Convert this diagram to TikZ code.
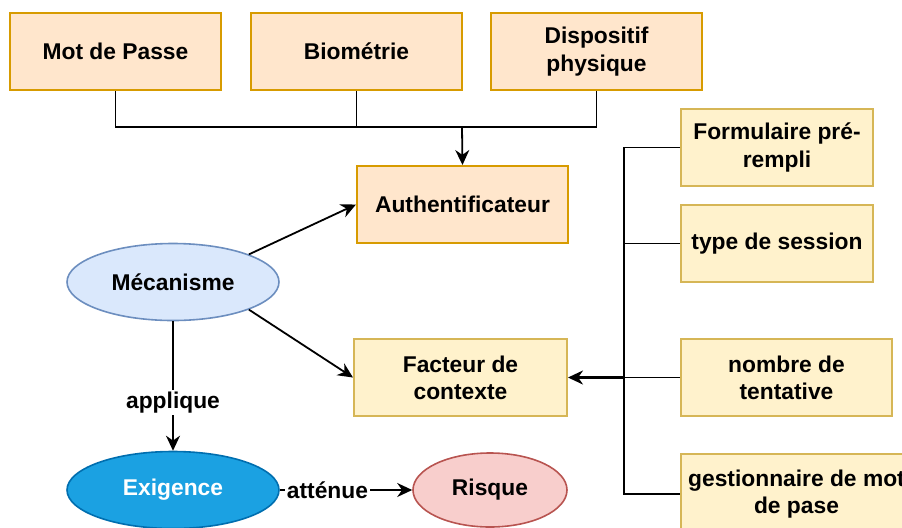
\documentclass[tikz,border=0pt]{standalone}
\usepackage{fontspec}
\setmainfont{Liberation Sans}
\usepackage{xcolor}
\usepackage{tikz}
\usetikzlibrary{shapes.geometric, arrows.meta, positioning, calc}
\definecolor{orangefill}{HTML}{FFE6CC}
\definecolor{orangeline}{HTML}{D79B00}
\definecolor{yellowfill}{HTML}{FFF2CC}
\definecolor{yellowline}{HTML}{D6B656}
\definecolor{bluefill}{HTML}{DAE8FC}
\definecolor{blueline}{HTML}{6C8EBF}
\definecolor{exigfill}{HTML}{1BA1E2}
\definecolor{exigline}{HTML}{006EAF}
\definecolor{redfill}{HTML}{F8CECC}
\definecolor{redline}{HTML}{B85450}

\begin{document}
\begin{tikzpicture}[x=0.5pt,y=-0.5pt,
    font=\fontsize{11.4}{13.6}\selectfont\bfseries,
    >={Stealth[length=7.5pt,width=7pt]},
    link/.style={line width=0.9pt},
    authbox/.style={rectangle,draw=orangeline,fill=orangefill,line width=1pt,minimum width=105.5pt,minimum height=38.5pt,align=center,inner sep=2pt},
    ctxbox/.style={rectangle,draw=yellowline,fill=yellowfill,line width=1pt,minimum height=38.5pt,align=center,inner sep=2pt},
    bubble/.style={ellipse,line width=0.8pt,minimum width=106pt,minimum height=38.5pt,inner sep=0pt}]
    \clip (0,0) rectangle (902,527);

    % Authentificateurs
    \node[authbox] (mdp) at (115.5,51.5) {Mot de Passe};
    \node[authbox] (bio) at (356.5,51.5) {Biométrie};
    \node[authbox] (dispo) at (596.5,51.5) {Dispositif\\physique};
    \node[authbox] (auth) at (462.5,204.5) {Authentificateur};

    % Facteurs de contexte
    \node[ctxbox,minimum width=96pt] (form) at (777,147.5) {Formulaire pré-\\rempli};
    \node[ctxbox,minimum width=96pt] (sess) at (777,243.5) {type de session};
    \node[ctxbox,minimum width=105.5pt] (nbr) at (786.5,377.5) {nombre de\\tentative};
    \node[ctxbox,minimum width=115.5pt,minimum height=40pt] (gest) at (796.5,494) {gestionnaire de mot\\de pase};
    \node[ctxbox,minimum width=106.5pt] (fact) at (460.5,377.5) {Facteur de\\contexte};

    % Concepts
    \node[bubble,draw=blueline,fill=bluefill] (meca) at (173,282) {Mécanisme};
    \node[bubble,draw=exigline,fill=exigfill,text=white] (exig) at (173,490) {Exigence};
    \node[bubble,draw=redline,fill=redfill,minimum width=77pt,minimum height=37pt] (risq) at (490,490) {Risque};

    % Liens
    \coordinate (bus) at (462,127);
    \coordinate (trunk) at (624,377.5);
    \draw[link] (mdp.south) |- (bus) -| (dispo.south);
    \draw[link] (bio.south) -- (bio.south |- bus);
    \draw[link,->] (bus) -- (auth.north);

    \draw[link] (form.west) -| (trunk |- gest.west) -- (gest.west);
    \draw[link] (sess.west) -- (sess.west -| trunk);
    \draw[link] (nbr.west) -- (trunk);
    \draw[link,line width=1.4pt,->] (trunk) -- (fact.east);

    \draw[link,->] (meca.20) -- (auth.west);
    \draw[link,->] (meca.-20) -- (fact.west);
    \draw[link,->] (meca) -- node[pos=0.63,fill=white,inner sep=1pt] {applique} (exig);
    \draw[link,->] (exig) -- node[pos=0.36,fill=white,inner sep=1pt] {atténue} (risq);
\end{tikzpicture}
\end{document}
